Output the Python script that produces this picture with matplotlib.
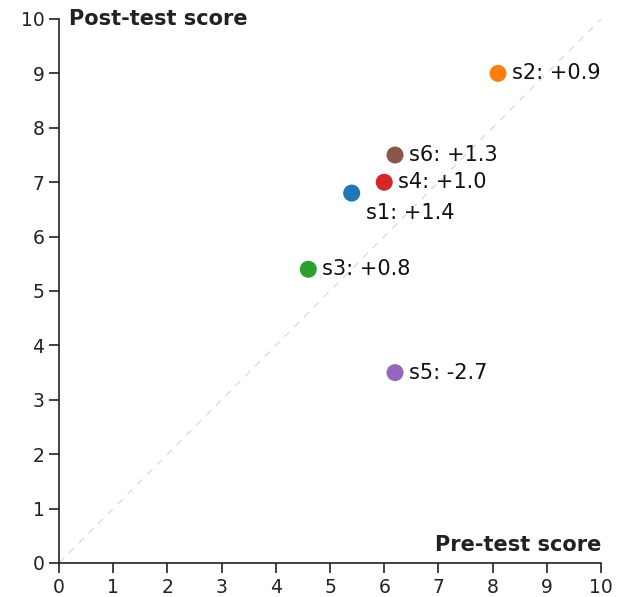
import matplotlib
matplotlib.use("Agg")
import matplotlib.pyplot as plt

# student scores
names = ["s1", "s2", "s3", "s4", "s5", "s6"]
pre = [5.4, 8.1, 4.6, 6.0, 6.2, 6.2]
post = [6.8, 9.0, 5.4, 7.0, 3.5, 7.5]
colors = ["#1f77b4", "#ff7f0e", "#2ca02c", "#d62728", "#9467bd", "#8c564b"]

plt.rcParams["font.family"] = "DejaVu Sans"

fig = plt.figure(figsize=(6.21, 5.97), dpi=100)
ax = fig.add_axes([59 / 621, 34 / 597, 542 / 621, 544 / 597])

ax.plot([0, 10], [0, 10], color="#dddddd", lw=1, ls=(0, (5, 5)), zorder=1)
ax.scatter(pre, post, c=colors, s=150, zorder=3, linewidths=0)

for n, x, y in zip(names, pre, post):
    d = y - x
    txt = f"{n}: {d:+.1f}"
    if n == "s1":
        ax.annotate(txt, (x, y), xytext=(10, -7), textcoords="offset points",
                    fontsize=15, va="top", ha="left", color="#111111")
    else:
        ax.annotate(txt, (x, y), xytext=(10, 0), textcoords="offset points",
                    fontsize=15, va="center", ha="left", color="#111111")

ax.set_xlim(0, 10)
ax.set_ylim(0, 10)
ax.set_xticks(range(11))
ax.set_yticks(range(11))
ax.tick_params(labelsize=13.5, length=7, width=1.2, colors="#222222")
for s in ["left", "bottom"]:
    ax.spines[s].set_color("#222222")
    ax.spines[s].set_linewidth(1.2)
ax.spines["top"].set_visible(False)
ax.spines["right"].set_visible(False)

ax.text(0.018, 1.0, "Post-test score", transform=ax.transAxes, fontsize=15,
        fontweight="bold", va="center", ha="left", color="#222222")
ax.text(1.0, 0.033, "Pre-test score", transform=ax.transAxes, fontsize=15,
        fontweight="bold", va="center", ha="right", color="#222222")

fig.savefig("out.png", dpi=100)
